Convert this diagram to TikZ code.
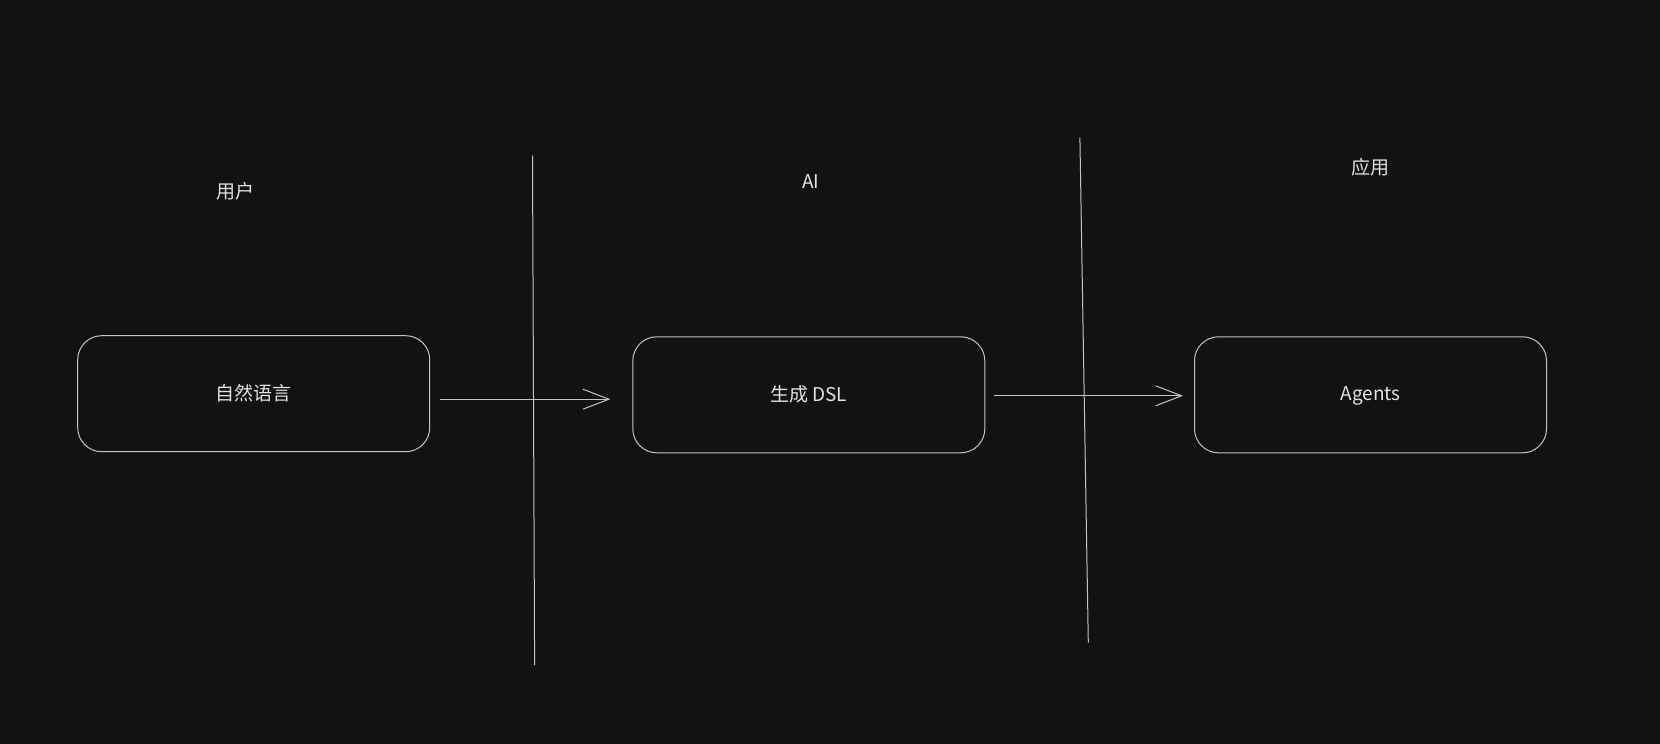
\documentclass[tikz,border=0pt]{standalone}
\usepackage{fontspec}
\newfontfamily\cjk{Noto Sans CJK SC}
\usetikzlibrary{positioning, arrows.meta, calc}
\definecolor{canvas}{HTML}{121212}
\definecolor{ink}{HTML}{C4C4C4}
\definecolor{label}{HTML}{E2E2E2}
\tikzset{
    stage/.style={draw=ink, line width=1pt, rounded corners=24pt,
      minimum width=352pt, minimum height=116pt, text=label,
      font=\cjk\fontsize{19}{23}\selectfont},
    lane/.style={text=label, font=\cjk\fontsize{19}{23}\selectfont},
    divider/.style={draw=ink, line width=1pt},
    flow/.style={draw=ink, line width=1pt, -{Straight Barb[length=26pt,width=20pt,line width=1pt]}},
}
\begin{document}
\begin{tikzpicture}[x=1pt, y=-1pt]
    \fill[canvas] (0,0) rectangle (1660,744);
    \useasboundingbox (0,0) rectangle (1660,744);

    % the three stages
    \node[stage] (nl) at (253.7,393.7) {自然语言};
    \node[stage] (dsl) at (808.8,394.8) {生成 DSL};
    \node[stage, text depth=2pt] (agents) at (1370.5,394.8) {Agents};

    % lane titles
    \node[lane] (user) at (235,191) {用户};
    \node[lane] (ai) at (810.7,181.7) {AI};
    \node[lane] (app) at (1370,167.3) {应用};

    % lane dividers
    \coordinate (d1top) at (532.5,155.6);
    \coordinate (d1bot) at (534.6,665);
    \coordinate (d2top) at (1079.9,137.6);
    \coordinate (d2bot) at (1088.3,642.6);
    \draw[divider] (d1top) -- (d1bot);
    \draw[divider] (d2top) -- (d2bot);

    \draw[flow, shorten <=10pt, shorten >=22pt] ([yshift=-5.5pt]nl.east) -- ([yshift=-5.5pt]nl.east -| dsl.west);
    \draw[flow, shorten <=9pt, shorten >=11pt] ([yshift=-1pt]dsl.east) -- ([yshift=-1pt]agents.west);
\end{tikzpicture}
\end{document}
